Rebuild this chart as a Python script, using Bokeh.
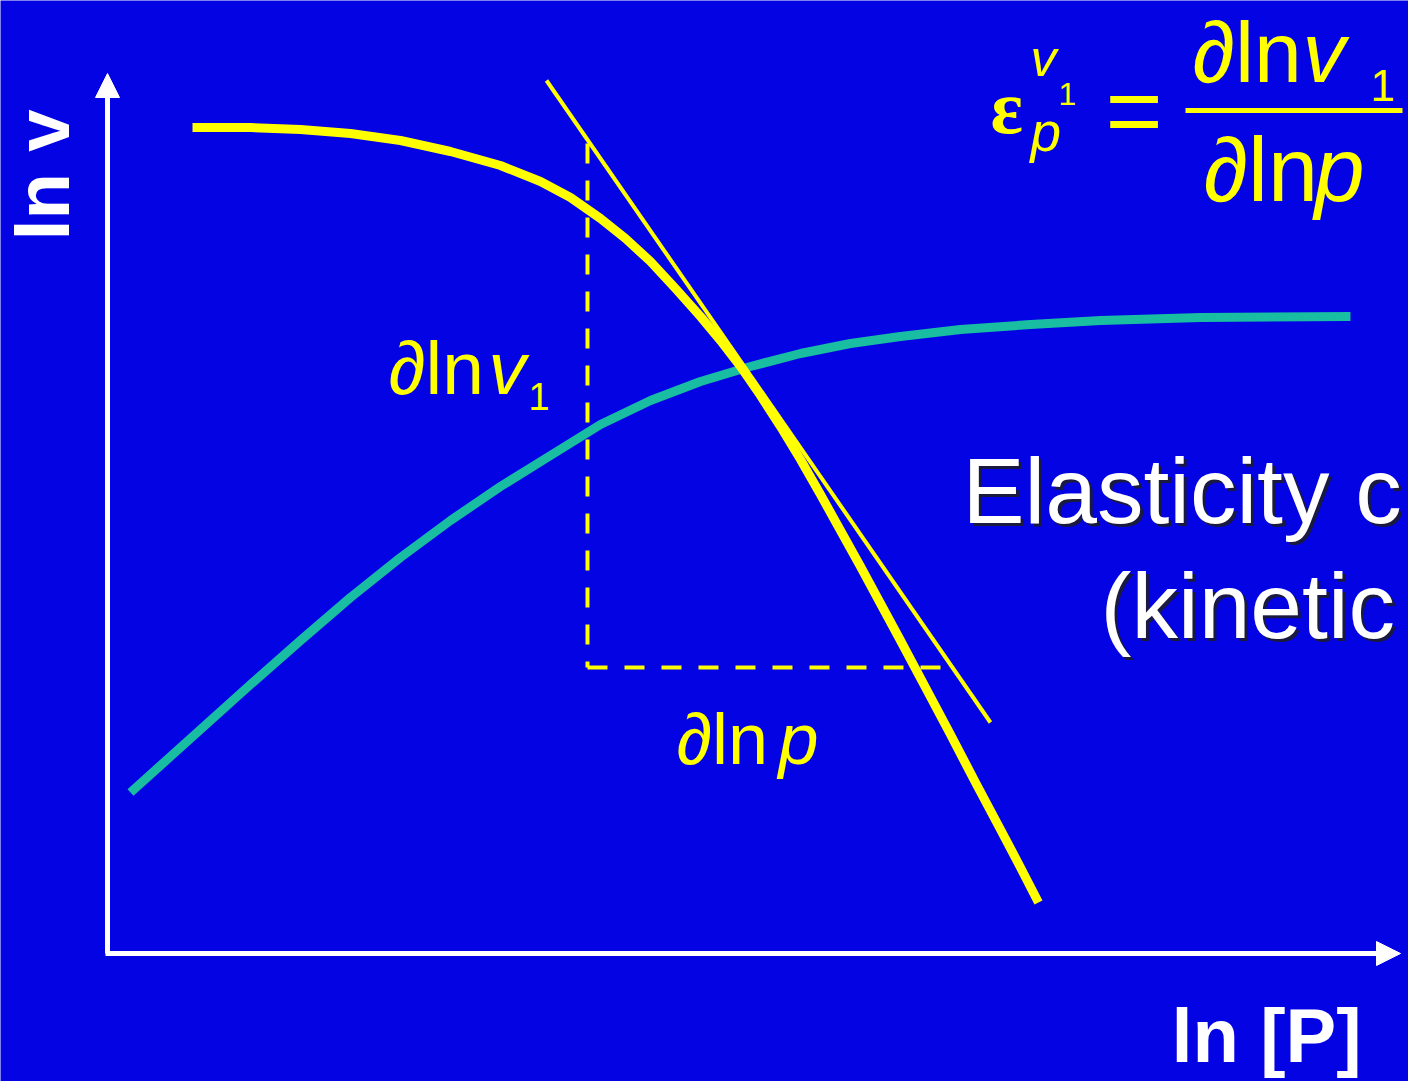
import math
from bokeh.plotting import figure
from bokeh.models import Range1d, Arrow, NormalHead
from bokeh.core.properties import value
from bokeh.embed import file_html
from bokeh.resources import INLINE

BG = "#0303E3"
YELLOW = "#FFFF00"
TEAL = "#19BDA2"
WHITE = "#FFFFFF"

# ---- data (chart units: origin at the axes' corner) ----
# flux v1 (yellow), falls with ln[P]
yellow_x = [85, 143, 193, 243, 293, 343, 393, 433, 463, 493, 518, 543, 568, 593, 613,
            633, 653, 673, 693, 713, 733, 753, 773, 793, 818, 843, 868, 893, 913, 931]
yellow_y = [826, 826, 824, 820, 813, 802, 788, 772, 756, 735, 715, 692, 665, 637, 613,
            587, 558, 527, 494, 459, 423, 387, 350, 313, 266, 219, 171, 124, 86, 51]
# second rate (teal), rises and saturates
teal_x = [23, 63, 103, 143, 193, 243, 293, 343, 393, 443, 493, 543, 593, 643, 693,
          743, 793, 853, 923, 993, 1093, 1243]
teal_y = [161, 197, 233, 269, 313, 356, 396, 433, 467, 498, 529, 553, 572, 587, 600,
          610, 617, 624, 629, 633, 636, 637]
# tangent to yellow curve
tangent_x = [439, 883]
tangent_y = [873, 231]
# dashed slope triangle
dash_v_x = [480, 480]
dash_v_y = [810, 286]
dash_h_x = [480, 841]
dash_h_y = [286, 286]
# axes ends
axis_x_end = 1293
axis_y_end = 880
# fraction bar
frac_x = [1078, 1295]
frac_y = [843, 843]

p = figure(width=1408, height=1081, output_backend="svg", toolbar_location=None,
           x_range=Range1d(-107, 1301), y_range=Range1d(-128, 953),
           x_axis_type=None, y_axis_type=None, min_border=0,
           background_fill_color=BG, border_fill_color=BG, outline_line_color=None)
p.grid.visible = False

# axes with arrowheads
p.add_layout(Arrow(end=NormalHead(size=24, fill_color=WHITE, line_color=WHITE, line_width=1),
                   x_start=0, y_start=0, x_end=0, y_end=axis_y_end,
                   line_color=WHITE, line_width=5))
p.add_layout(Arrow(end=NormalHead(size=24, fill_color=WHITE, line_color=WHITE, line_width=1),
                   x_start=-2, y_start=0, x_end=axis_x_end, y_end=0,
                   line_color=WHITE, line_width=5))

# curves
p.line(teal_x, teal_y, line_color=TEAL, line_width=9, line_cap="butt", line_join="round")
p.line(dash_v_x, dash_v_y, line_color=YELLOW, line_width=4, line_dash="20 17")
p.line(dash_h_x, dash_h_y, line_color=YELLOW, line_width=4, line_dash="20 17")
p.line(tangent_x, tangent_y, line_color=YELLOW, line_width=4)
p.line(yellow_x, yellow_y, line_color=YELLOW, line_width=9, line_cap="butt", line_join="round")

SANS = value("Liberation Sans")
K = 0.37  # baseline compensation (fraction of font size)

def txt(x, y, s, size, color=YELLOW, style="normal", font=SANS, angle=0.0):
    px = float(size.replace("px", ""))
    if angle:
        x, yy = x - K * px, y
    else:
        x, yy = x, y + K * px
    p.text(x=[x], y=[yy], text=[s], text_font=font, text_font_size=size,
           text_font_style=style, text_color=color, text_align="left",
           text_baseline="alphabetic", angle=angle)

# axis labels
txt(-37, 713, "ln v", "76px", color=WHITE, style="bold", angle=math.pi / 2)
txt(1064, -110, "ln [P]", "76px", color=WHITE, style="bold")

# title text with shadow
for dx, dy, col in [(3, -3, "#1a1a40"), (0, 0, WHITE)]:
    txt(855 + dx, 428 + dy, "Elasticity c", "93px", color=col)
    txt(993 + dx, 313 + dy, "(kinetic", "93px", color=col)

# equation
txt(883, 818, "ε", "76px", style="bold", font=value("Liberation Serif"))
txt(923, 876, "v", "52px", style="italic")
txt(951, 848, "1", "32px")
txt(923, 801, "p", "55px", style="italic")
txt(998, 806, "=", "98px")
p.line(frac_x, frac_y, line_color=YELLOW, line_width=5)
txt(1085, 870, "∂ln", "86px")
txt(1195, 870, "v", "86px", style="italic")
txt(1263, 852, "1", "44px")
txt(1096, 750, "∂ln", "90px")
txt(1207, 750, "p", "90px", style="italic")

# slope triangle labels
txt(281, 558, "∂ln", "75px")
txt(381, 558, "v", "75px", style="italic")
txt(421, 543, "1", "38px")
txt(569, 188, "∂ln", "72px")
txt(671, 188, "p", "72px", style="italic")

open("out.html", "w").write(file_html(p, INLINE))
